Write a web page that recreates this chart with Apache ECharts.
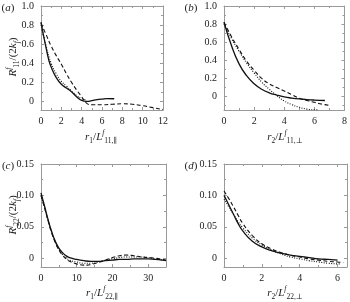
<!DOCTYPE html>
<html>
<head>
<meta charset="utf-8">
<script src="https://cdn.jsdelivr.net/npm/echarts@6/dist/echarts.min.js"></script>
<style>
  html, body { margin: 0; padding: 0; background: #fff; }
  #chart { width: 350px; height: 302px; }
</style>
</head>
<body>
<div id="chart"></div>
<script>
  // panel (a): R11 along r1
  var aSolid = [[0,0.83],[0.25,0.69],[0.5,0.56],[0.75,0.44],[1,0.36],[1.5,0.25],[2,0.18],[2.5,0.14],[3,0.1],[3.5,0.05],[4,0.01],[4.5,0.0],[5,0.008],[5.5,0.018],[6,0.025],[6.5,0.03],[7.2,0.028]];
  var aDashed = [[0,0.82],[0.5,0.7],[1,0.58],[1.5,0.48],[2,0.39],[2.5,0.29],[3,0.2],[3.5,0.12],[4,0.05],[4.5,-0.02],[5,-0.035],[6,-0.035],[7,-0.03],[8,-0.025],[9,-0.03],[10,-0.045],[11,-0.065],[12,-0.085]];
  var aDotted = [[0,0.8],[0.5,0.58],[1,0.4],[1.5,0.29],[2,0.21],[2.5,0.16],[3,0.11],[3.5,0.06],[4,0.03],[4.5,0.015]];
  // panel (b): R11 along r2
  var bSolid = [[0,0.82],[0.5,0.56],[1,0.36],[1.5,0.23],[2,0.14],[2.5,0.08],[3,0.04],[3.5,0.015],[4,-0.005],[4.5,-0.018],[5,-0.028],[5.5,-0.035],[6,-0.04],[6.7,-0.045]];
  var bDashed = [[0,0.82],[0.5,0.66],[1,0.52],[1.5,0.39],[2,0.29],[2.5,0.2],[3,0.14],[3.5,0.1],[4,0.06],[4.5,0.02],[5,-0.02],[5.5,-0.045],[6,-0.065],[6.5,-0.085],[7,-0.1]];
  var bDotted = [[0,0.8],[0.5,0.64],[1,0.5],[1.5,0.37],[2,0.26],[2.5,0.16],[3,0.08],[3.5,0.01],[4,-0.05],[4.5,-0.09],[5,-0.12],[5.5,-0.14],[6,-0.148],[6.2,-0.148]];
  // panel (c): R22 along r1
  var cSolid = [[0,0.104],[1,0.083],[2,0.061],[3,0.042],[4,0.027],[5,0.016],[6,0.009],[7,0.004],[8,0.001],[10,-0.002],[12,-0.004],[14,-0.005],[16,-0.005],[18,-0.004],[20,-0.003],[22,-0.002],[24,-0.002],[26,-0.001],[28,-0.001],[30,-0.001],[32,-0.002],[34,-0.003],[35,-0.004]];
  var cDashed = [[0,0.1],[1,0.08],[2,0.059],[3,0.04],[4,0.025],[5,0.013],[6,0.005],[7,-0.001],[8,-0.005],[10,-0.009],[12,-0.011],[13,-0.011],[14,-0.01],[16,-0.007],[18,-0.003],[20,0.001],[22,0.004],[24,0.005],[26,0.004],[28,0.002],[30,0.001],[32,0.0],[34,-0.002],[35,-0.003]];
  var cDotted = [[0,0.1],[1,0.08],[2,0.06],[3,0.041],[4,0.026],[5,0.014],[6,0.006],[7,0.001],[8,-0.003],[10,-0.006],[12,-0.008],[14,-0.008],[16,-0.006],[18,-0.003],[20,-0.001],[22,0.001],[24,0.002],[26,0.002],[28,0.002],[30,0.001],[32,-0.001],[34,-0.003],[35,-0.004]];
  // panel (d): R22 along r2
  var dSolid = [[0,0.1],[0.25,0.085],[0.5,0.07],[0.75,0.055],[1,0.043],[1.5,0.027],[2,0.018],[2.5,0.012],[3,0.008],[3.5,0.005],[4,0.003],[4.5,0.001],[5,-0.001],[5.5,-0.002],[6,-0.003]];
  var dDashed = [[0,0.107],[0.25,0.095],[0.5,0.082],[0.75,0.068],[1,0.055],[1.5,0.036],[2,0.023],[2.5,0.015],[3,0.009],[3.5,0.005],[4,0.002],[4.5,-0.001],[5,-0.003],[5.5,-0.005],[6,-0.006],[6.3,-0.007]];
  var dDotted = [[0,0.094],[0.25,0.082],[0.5,0.07],[0.75,0.058],[1,0.048],[1.5,0.032],[2,0.021],[2.5,0.013],[3,0.007],[3.5,0.002],[4,-0.001],[4.5,-0.004],[5,-0.006],[5.5,-0.008],[6,-0.009],[6.2,-0.009]];

  var fontFam = '"Liberation Serif", "DejaVu Serif", serif';
  var frameColor = '#999';

  var grids = [
    {left: 41, top: 6, width: 122, height: 104},
    {left: 224, top: 6, width: 123, height: 104},
    {left: 41, top: 164, width: 125, height: 103},
    {left: 224, top: 164, width: 123, height: 103}
  ];
  var xRanges = [[0, 12, 2], [0, 8, 2], [0, 35, 10], [0, 6.5, 2]];
  var yRanges = [[-0.09, 1.0, 5, 1], [-0.15, 1.0, 5, 1], [-0.014, 0.15, 3, 2], [-0.014, 0.15, 3, 2]];

  function makeFormatter(digits) {
    return function (v) { return Math.abs(v) < 1e-9 ? '0' : v.toFixed(digits); };
  }

  var xAxes = [];
  var yAxes = [];
  for (var i = 0; i < 4; i++) {
    var xr = xRanges[i];
    var yr = yRanges[i];
    [false, true].forEach(function (other) {
      xAxes.push({
        type: 'value', gridIndex: i, min: xr[0], max: xr[1], interval: xr[2],
        position: other ? 'top' : 'bottom',
        splitLine: {show: false},
        axisLine: {onZero: false, lineStyle: {color: frameColor, width: 1}},
        axisTick: {inside: true, length: 3, lineStyle: {color: frameColor}},
        minorTick: {show: true, splitNumber: 2, length: 2, lineStyle: {color: frameColor}},
        axisLabel: {show: !other, showMaxLabel: xr[1] % xr[2] === 0, color: '#222', fontFamily: fontFam, fontSize: 10, margin: 6}
      });
    });
    [false, true].forEach(function (other) {
      yAxes.push({
        type: 'value', gridIndex: i, min: yr[0], max: yr[1], splitNumber: yr[2],
        position: other ? 'right' : 'left',
        splitLine: {show: false},
        axisLine: {onZero: false, lineStyle: {color: frameColor, width: 1}},
        axisTick: {inside: true, length: 3, lineStyle: {color: frameColor}},
        minorTick: {show: true, splitNumber: 2, length: 2, lineStyle: {color: frameColor}},
        axisLabel: {
          show: !other, showMinLabel: false, color: '#222', fontFamily: fontFam, fontSize: 10, margin: 7,
          formatter: makeFormatter(yr[3])
        }
      });
    });
  }

  function line(data, idx, kind) {
    var dash = kind === 'dashed' ? [4, 2.5] : (kind === 'dotted' ? [1, 1.5] : 'solid');
    return {
      type: 'line', data: data, xAxisIndex: idx * 2, yAxisIndex: idx * 2,
      smooth: true, showSymbol: false, silent: true, z: kind === 'solid' ? 3 : 2,
      lineStyle: {color: '#111', width: kind === 'solid' ? 1.3 : 1.1, type: dash}
    };
  }

  var richStyle = {
    i: {fontFamily: fontFam, fontStyle: 'italic', fontSize: 11, lineHeight: 16, fill: '#222'},
    n: {fontFamily: fontFam, fontSize: 11, lineHeight: 16, fill: '#222'},
    sb: {fontFamily: fontFam, fontSize: 7.5, lineHeight: 16, verticalAlign: 'bottom', padding: [8, 0, 0, 0], fill: '#222'},
    sbi: {fontFamily: fontFam, fontStyle: 'italic', fontSize: 7.5, lineHeight: 16, verticalAlign: 'bottom', padding: [8, 0, 0, 0], fill: '#222'},
    sp: {fontFamily: fontFam, fontStyle: 'italic', fontSize: 7.5, lineHeight: 16, verticalAlign: 'top', padding: [0, 0, 8, 0], fill: '#222'}
  };

  function label(txt, x, y, rot) {
    return {
      type: 'text', x: x, y: y, rotation: rot || 0,
      style: {text: txt, rich: richStyle, align: 'center', verticalAlign: 'middle'}
    };
  }

  var panelTags = [['a', 8, 8], ['b', 191, 8], ['c', 8, 166], ['d', 191, 166]];
  var graphics = panelTags.map(function (p) {
    return label('{n|(}{i|' + p[0] + '}{n|)}', p[1], p[2]);
  });
  graphics.push(label('{i|r}{sb|1}{n|/}{i|L}{sp|f}{sb|11,∥}', 101, 137));
  graphics.push(label('{i|r}{sb|2}{n|/}{i|L}{sp|f}{sb|11,⊥}', 285, 137));
  graphics.push(label('{i|r}{sb|1}{n|/}{i|L}{sp|f}{sb|22,∥}', 102, 293));
  graphics.push(label('{i|r}{sb|2}{n|/}{i|L}{sp|f}{sb|22,⊥}', 285, 293));
  graphics.push(label('{i|R}{sp|f}{sb|11}{n|/(2}{i|k}{sbi|f}{n|)}', 13, 57, Math.PI / 2));
  graphics.push(label('{i|R}{sp|f}{sb|22}{n|/(2}{i|k}{sbi|f}{n|)}', 13, 215, Math.PI / 2));

  var myChart = echarts.init(document.getElementById('chart'), null, {renderer: 'canvas'});
  myChart.setOption({
    animation: false,
    backgroundColor: '#fff',
    grid: grids,
    xAxis: xAxes,
    yAxis: yAxes,
    graphic: graphics,
    series: [
      line(aDotted, 0, 'dotted'), line(aDashed, 0, 'dashed'), line(aSolid, 0, 'solid'),
      line(bDotted, 1, 'dotted'), line(bDashed, 1, 'dashed'), line(bSolid, 1, 'solid'),
      line(cDotted, 2, 'dotted'), line(cDashed, 2, 'dashed'), line(cSolid, 2, 'solid'),
      line(dDotted, 3, 'dotted'), line(dDashed, 3, 'dashed'), line(dSolid, 3, 'solid')
    ]
  });
</script>
</body>
</html>
